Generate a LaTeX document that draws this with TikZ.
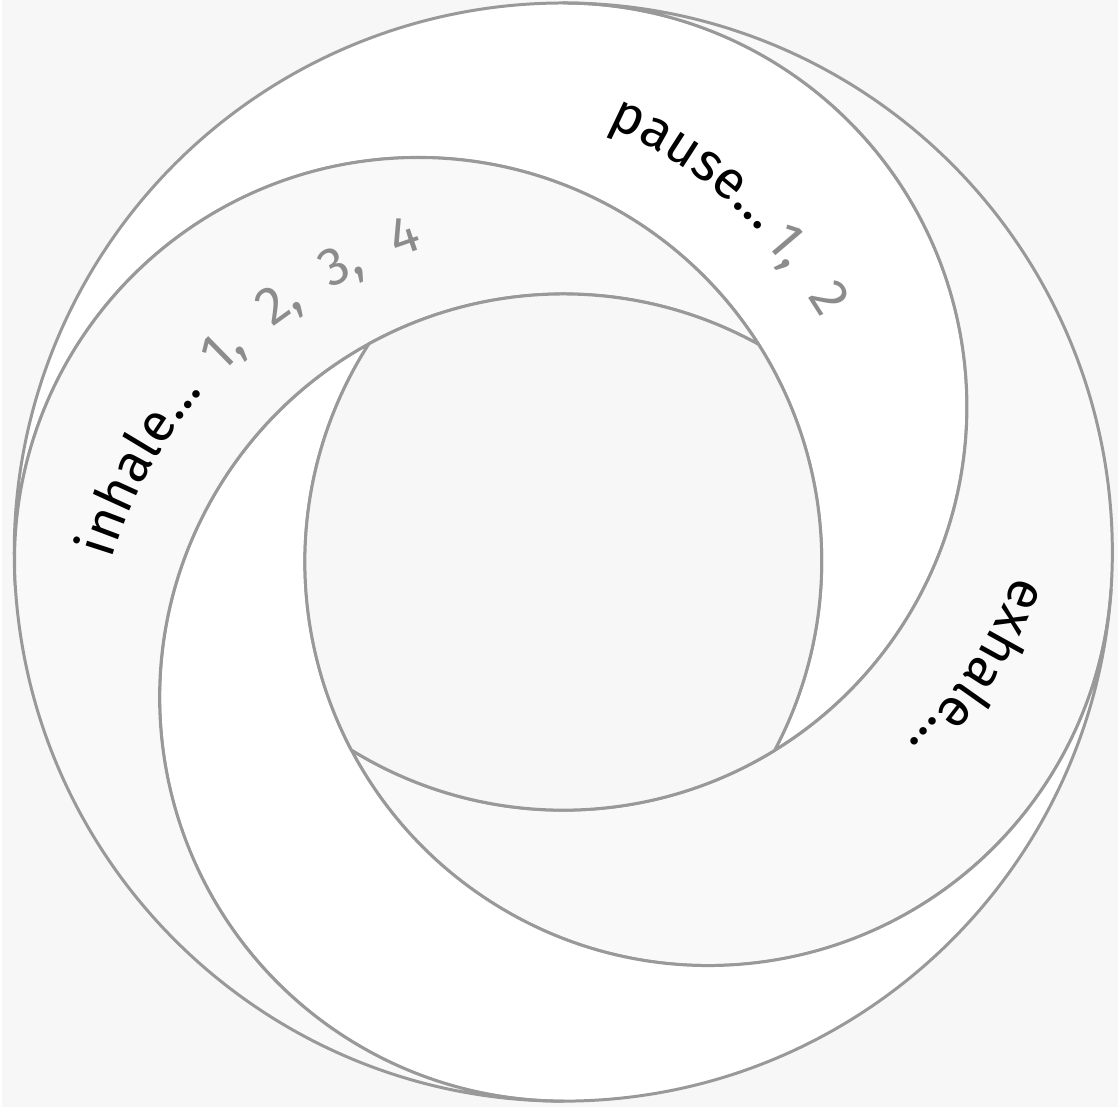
\documentclass[tikz,border=0pt]{standalone}
\usepackage{fontspec}
\setmainfont{Fira Sans}
\definecolor{ringgray}{HTML}{999999}
\definecolor{paper}{HTML}{F7F7F7}
\definecolor{bandgray}{HTML}{F9F9F9}
\definecolor{countgray}{HTML}{8C8C8C}
\usetikzlibrary{calc}
\usetikzlibrary{decorations.text}

\begin{document}
\fontsize{54}{64}\selectfont
\begin{tikzpicture}[x=1pt, y=1pt, line join=round,
    ring/.style={draw=ringgray, line width=3pt},
    whiteband/.style={ring, fill=white},
    greyband/.style={ring, fill=bandgray},
    hole/.style={ring, fill=paper},
    tally/.style={text=countgray, anchor=base, inner sep=0pt}]
  % Coordinates (centres of the circles)
  \coordinate (O) at (563.00, 557.00);
  \coordinate (D) at (563.00, 703.00);
  \coordinate (R) at (708.66, 547.02);
  \coordinate (E) at (563.00, 411.00);
  \coordinate (L) at (417.28, 547.96);

  % Background
  \fill[paper] (0,0) rectangle (1120,1111);

  % Bands
  \filldraw[whiteband] ($(O)+(183.552:551)$)
    arc[start angle=183.552, end angle=90, radius=551]
    arc[start angle=90, end angle=-58.45, radius=405]
    arc[start angle=-27.99, end angle=183.552, radius=405] -- cycle;
  \filldraw[greyband] ($(O)+(90:551)$)
    arc[start angle=90, end angle=-3.918, radius=551]
    arc[start angle=-3.918, end angle=-152.24, radius=405]
    arc[start angle=-121.69, end angle=90, radius=405] -- cycle;
  \filldraw[whiteband] ($(O)+(-3.918:551)$)
    arc[start angle=-3.918, end angle=-90, radius=551]
    arc[start angle=-90, end angle=-241.21, radius=405]
    arc[start angle=147.29, end angle=356.082, radius=405] -- cycle;
  \filldraw[greyband] ($(O)+(270:551)$)
    arc[start angle=270, end angle=183.552, radius=551]
    arc[start angle=183.552, end angle=32.48, radius=405]
    arc[start angle=61.06, end angle=270, radius=405] -- cycle;
  \filldraw[hole] ($(E)+(118.79:405)$)
    arc[start angle=118.79, end angle=61.06, radius=405]
    arc[start angle=32.48, end angle=-27.99, radius=405]
    arc[start angle=-58.45, end angle=-121.69, radius=405]
    arc[start angle=207.76, end angle=147.29, radius=405] -- cycle;

  % Labels
  \path[decorate, decoration={text along path, text={inhale…}}]
    ($(E)+(163:474)$) arc[start angle=163, end angle=125, radius=474];
  \foreach \a/\t [count=\i] in {134.4/{1,}, 125.8/{2,}, 117.2/{3,}, 109.0/4}
    \node[tally, rotate=\a-90] (inhale\i) at ($(E)+(\a:472)$) {\t};

  \path[decorate, decoration={text along path, text={pause…}}]
    ($(L)+(66.5:476)$) arc[start angle=66.5, end angle=30, radius=476];
  \node[tally, rotate=40.4-90] (pause1) at ($(L)+(40.4:472)$) {1,};
  \node[tally, rotate=32.6-90] (pause2) at ($(L)+(32.6:472)$) {2};

  \path[decorate, decoration={text along path, text={exhale…}}]
    ($(D)+(-20.5:484)$) arc[start angle=-20.5, end angle=-60, radius=484];
\end{tikzpicture}
\end{document}
